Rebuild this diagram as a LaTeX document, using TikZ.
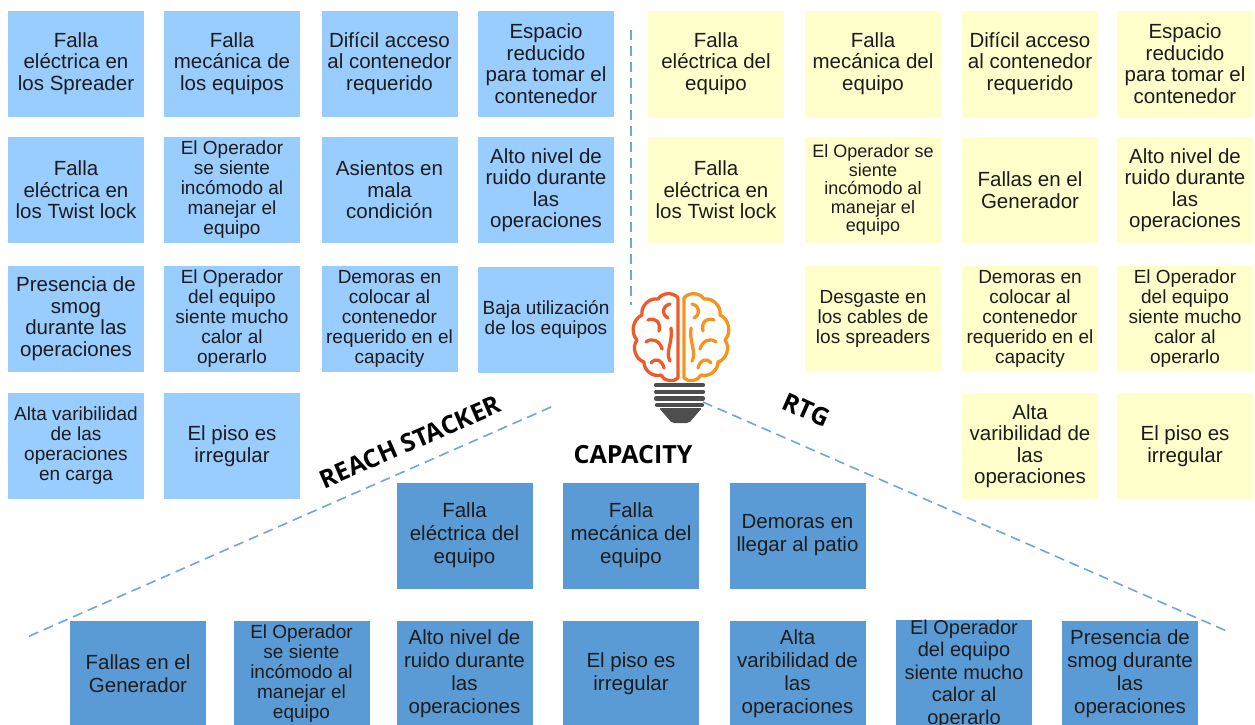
\documentclass[tikz,border=0pt]{standalone}
\usepackage{fontspec}
\setmainfont{Liberation Sans}
\newfontfamily\headfont{Open Sans}

\definecolor{paleblue}{RGB}{153,204,255}
\definecolor{paleyellow}{RGB}{255,255,204}
\definecolor{midblue}{RGB}{91,155,213}
\definecolor{dashblue}{RGB}{110,165,220}
\definecolor{txt}{RGB}{28,28,28}
\definecolor{lobeL}{RGB}{238,90,42}
\definecolor{lobeR}{RGB}{247,148,30}
\definecolor{bulbgrey}{RGB}{78,78,78}

\tikzset{
  card/.style={rectangle, minimum width=136pt, minimum height=106pt,
               inner sep=0pt, align=center, text=txt},
  sky/.style={card, fill=paleblue},
  sand/.style={card, fill=paleyellow},
  sea/.style={card, fill=midblue},
  fbig/.style={font=\fontsize{20.5}{21.5}\selectfont},
  fmid/.style={font=\fontsize{19}{20}\selectfont},
  fsml/.style={font=\fontsize{18}{18.5}\selectfont},
  fsea/.style={font=\fontsize{20.5}{23}\selectfont},
  guide/.style={dashblue, line width=1.6pt, dash pattern=on 10pt off 6pt},
  heading/.style={font=\headfont\bfseries\fontsize{25}{28}\selectfont,
                  text=black, inner sep=0pt},
  lobe/.style={line width=3.3pt, line cap=round, line join=round},
}

% one hemisphere of the brain icon (left side; mirrored for the right)
\newcommand\brainlobe{%
  \draw[lobe] (678,298) to[bend right=55] (658,299) to[bend right=55] (642,315)
    to[bend right=55] (637,340) to[bend right=55] (644,362)
    to[bend right=55] (661,375) to[bend right=55] (678,378) -- cycle;
  \draw[lobe] (670,304) .. controls (662,306) and (661,314) .. (668,318);
  \draw[lobe] (648,320) .. controls (655,317) and (661,322) .. (659,331);
  \draw[lobe] (646,342) .. controls (652,337) and (660,341) .. (662,349);
  \draw[lobe] (671,328) .. controls (673,343) and (665,352) .. (670,361);
  \draw[lobe] (651,363) .. controls (656,357) and (662,360) .. (664,368);
}

\begin{document}
\begin{tikzpicture}[x=1pt, y=-1pt]
\useasboundingbox (0,0) rectangle (1255,724);
\clip (0,0) rectangle (1255,724);

% ---------- REACH STACKER (left) ----------
\node[sky, fbig] (rs11) at (76,63.5)   {Falla\\eléctrica en\\los Spreader};
\node[sky, fbig] (rs12) at (232,63.5)  {Falla\\mecánica de\\los equipos};
\node[sky, fbig] (rs13) at (389.5,63.5){Difícil acceso\\al contenedor\\requerido};
\node[sky, fbig] (rs14) at (546,63.5)  {Espacio\\reducido\\para tomar el\\contenedor};

\node[sky, fbig] (rs21) at (76,190)    {Falla\\eléctrica en\\los Twist lock};
\node[sky, fmid] (rs22) at (232,190)   {El Operador\\se siente\\incómodo al\\manejar el\\equipo};
\node[sky, fbig] (rs23) at (389.5,190) {Asientos en\\mala\\condición};
\node[sky, fbig] (rs24) at (546,190)   {Alto nivel de\\ruido durante\\las\\operaciones};

\node[sky, fbig] (rs31) at (76,318.5)  {Presencia de\\smog\\durante las\\operaciones};
\node[sky, fmid] (rs32) at (232,318.5) {El Operador\\del equipo\\siente mucho\\calor al\\operarlo};
\node[sky, fmid] (rs33) at (389.5,318.5){Demoras en\\colocar al\\contenedor\\requerido en el\\capacity};
\node[sky, fmid] (rs34) at (546,319.5) {Baja utilización\\de los equipos};

\node[sky, fmid] (rs41) at (76,446)    {Alta varibilidad\\de las\\operaciones\\en carga};
\node[sky, fbig] (rs42) at (232,446)   {El piso es\\irregular};

% ---------- RTG (right) ----------
\node[sand, fbig] (rt11) at (716,63.5)  {Falla\\eléctrica del\\equipo};
\node[sand, fbig] (rt12) at (873,63.5)  {Falla\\mecánica del\\equipo};
\node[sand, fbig] (rt13) at (1030,63.5) {Difícil acceso\\al contenedor\\requerido};
\node[sand, fbig] (rt14) at (1185,63.5) {Espacio\\reducido\\para tomar el\\contenedor};

\node[sand, fbig] (rt21) at (716,190)   {Falla\\eléctrica en\\los Twist lock};
\node[sand, fsml] (rt22) at (873,190)   {El Operador se\\siente\\incómodo al\\manejar el\\equipo};
\node[sand, fbig] (rt23) at (1030,190)  {Fallas en el\\Generador};
\node[sand, fbig] (rt24) at (1185,190)  {Alto nivel de\\ruido durante\\las\\operaciones};

\node[sand, fmid] (rt32) at (873,318.5) {Desgaste en\\los cables de\\los spreaders};
\node[sand, fmid] (rt33) at (1030,318.5){Demoras en\\colocar al\\contenedor\\requerido en el\\capacity};
\node[sand, fmid] (rt34) at (1185,318.5){El Operador\\del equipo\\siente mucho\\calor al\\operarlo};

\node[sand, fbig] (rt43) at (1030,446)  {Alta\\varibilidad de\\las\\operaciones};
\node[sand, fbig] (rt44) at (1185,446)  {El piso es\\irregular};

% ---------- CAPACITY (bottom) ----------
\node[sea, fsea] (cp11) at (464.5,535.5) {Falla\\eléctrica del\\equipo};
\node[sea, fsea] (cp12) at (631,535.5)   {Falla\\mecánica del\\equipo};
\node[sea, fsea] (cp13) at (797.5,535.5) {Demoras en\\llegar al patio};

\node[sea, fsea] (cp21) at (138,674)   {Fallas en el\\Generador};
\node[sea, fmid] (cp22) at (301.5,674) {El Operador\\se siente\\incómodo al\\manejar el\\equipo};
\node[sea, fsea] (cp23) at (464.5,674) {Alto nivel de\\ruido durante\\las\\operaciones};
\node[sea, fsea] (cp24) at (631,674)   {El piso es\\irregular};
\node[sea, fsea] (cp25) at (797.5,674) {Alta\\varibilidad de\\las\\operaciones};
\node[sea, font=\fontsize{20}{22.5}\selectfont] (cp26) at (964,674) {El Operador\\del equipo\\siente mucho\\calor al\\operarlo};
\node[sea, fsea] (cp27) at (1130,674)  {Presencia de\\smog durante\\las\\operaciones};

% ---------- dividing guides ----------
\coordinate (vtop) at (631,30);
\coordinate (vbot) at (631,305);
\coordinate (ltop) at (551,407);
\coordinate (lbot) at (25,638);
\coordinate (rtop) at (703,402);
\coordinate (rbot) at (1229,632);
\draw[guide] (vtop) -- (vbot);
\draw[guide] (ltop) -- (lbot);
\draw[guide] (rtop) -- (rbot);

% ---------- group titles ----------
\node[heading, rotate=23.5] (lblrs) at (410,442) {REACH STACKER};
\node[heading, rotate=-24] (lblrt) at (806,410) {RTG};
\node[heading] (lblcp) at (633,455) {CAPACITY};

% ---------- brain bulb ----------
\begin{scope}[lobeL]
  \brainlobe
\end{scope}
\begin{scope}[lobeR, shift={(1362,0)}, xscale=-1]
  \brainlobe
\end{scope}
\begin{scope}[bulbgrey, line width=4.2pt, line cap=round]
  \draw (656,385) -- (703,385);
  \draw (656,391.7) -- (703,391.7);
  \draw (656,398.4) -- (703,398.4);
  \draw (657,405) -- (702,405);
  \fill[rounded corners=2pt] (659,408) -- (702,408) -- (689,423) -- (672,423) -- cycle;
\end{scope}
\end{tikzpicture}
\end{document}
